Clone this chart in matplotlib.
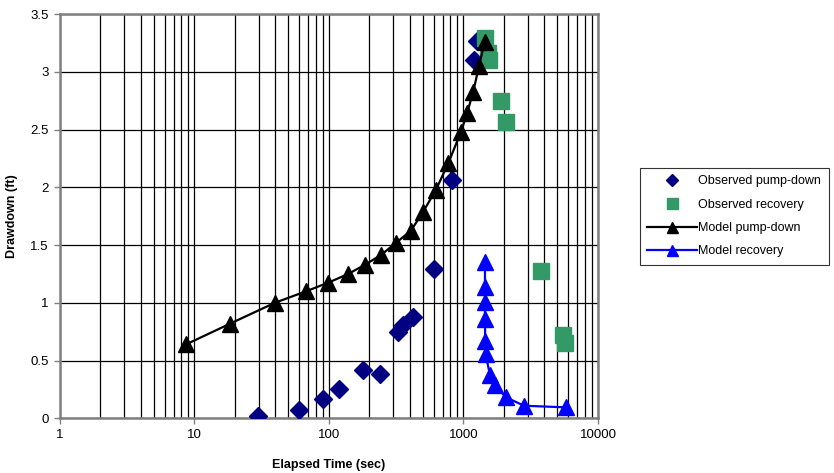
import matplotlib.pyplot as plt
from matplotlib.ticker import LogLocator, FuncFormatter, NullFormatter

plt.rcParams["font.family"] = ["Liberation Sans", "DejaVu Sans"]

# Observed pump-down (time sec, drawdown ft)
obs_down_t = [29.8, 59.8, 89.8, 119, 180, 239, 327, 357, 424, 604, 817, 1203, 1253]
obs_down_y = [0.02, 0.07, 0.17, 0.25, 0.42, 0.38, 0.745, 0.81, 0.88, 1.29, 2.06, 3.10, 3.27]

# Observed recovery
obs_rec_t = [1445, 1514, 1556, 1891, 2060, 3767, 5460, 5690]
obs_rec_y = [3.29, 3.16, 3.10, 2.75, 2.57, 1.276, 0.72, 0.655]

# Model pump-down
mod_down_t = [8.65, 18.4, 39.5, 67.5, 98.8, 139, 185, 244, 315, 407, 502,
              625, 771, 958, 1062, 1183, 1304, 1438]
mod_down_y = [0.64, 0.82, 1.00, 1.10, 1.175, 1.25, 1.33, 1.415, 1.52, 1.625, 1.79,
              1.98, 2.21, 2.48, 2.64, 2.83, 3.05, 3.26]

# Model recovery
mod_rec_t = [1445, 1445, 1445, 1445, 1450, 1460, 1574, 1714, 2070, 2819, 5784]
mod_rec_y = [1.35, 1.14, 1.005, 0.86, 0.672, 0.557, 0.375, 0.286, 0.182, 0.109, 0.095]

fig = plt.figure(figsize=(8.34, 4.73), dpi=100)
ax = fig.add_axes([0.0719, 0.1156, 0.6451, 0.8544])

ax.plot(obs_down_t, obs_down_y, linestyle="none", marker="D", markersize=8.8,
        color="#000080", label="Observed pump-down", zorder=3)
ax.plot(obs_rec_t, obs_rec_y, linestyle="none", marker="s", markersize=11,
        color="#339966", label="Observed recovery", zorder=3)
ax.plot(mod_down_t, mod_down_y, color="black", linewidth=1.6, marker="^",
        markersize=11, label="Model pump-down", zorder=4)
ax.plot(mod_rec_t, mod_rec_y, color="#0000ff", linewidth=1.6, marker="^",
        markersize=11, label="Model recovery", zorder=4)

ax.set_xscale("log")
ax.set_xlim(1, 10000)
ax.set_ylim(0, 3.5)
ax.set_yticks([0, 0.5, 1, 1.5, 2, 2.5, 3, 3.5])
ax.yaxis.set_major_formatter(FuncFormatter(lambda v, p: "%g" % v))
ax.xaxis.set_major_locator(LogLocator(base=10, numticks=10))
ax.xaxis.set_minor_locator(LogLocator(base=10, subs=range(2, 10), numticks=20))
ax.xaxis.set_major_formatter(FuncFormatter(lambda v, p: "%d" % v))
ax.xaxis.set_minor_formatter(NullFormatter())

ax.grid(True, which="both", axis="x", color="black", linewidth=0.9)
ax.grid(True, which="major", axis="y", color="black", linewidth=0.9)
ax.set_axisbelow(True)

for s in ax.spines.values():
    s.set_color("#808080")
    s.set_linewidth(1.8)

ax.tick_params(axis="both", which="major", labelsize=9.5, length=4, color="#808080",
               width=1, pad=4)
ax.tick_params(axis="x", which="minor", length=0)

ax.set_xlabel("Elapsed Time (sec)", fontsize=9, fontweight="bold", labelpad=13)
ax.set_ylabel("Drawdown (ft)", fontsize=9, fontweight="bold", labelpad=9)

leg = fig.legend(loc="upper left", bbox_to_anchor=(0.767, 0.645), fontsize=9,
                 frameon=True, fancybox=False, edgecolor="black", handlelength=4.0,
                 handletextpad=0.1, labelspacing=0.9, borderpad=0.6, markerscale=0.72,
                 borderaxespad=0)
leg.get_frame().set_linewidth(0.8)

plt.savefig("out.png", dpi=100)
plt.close()
